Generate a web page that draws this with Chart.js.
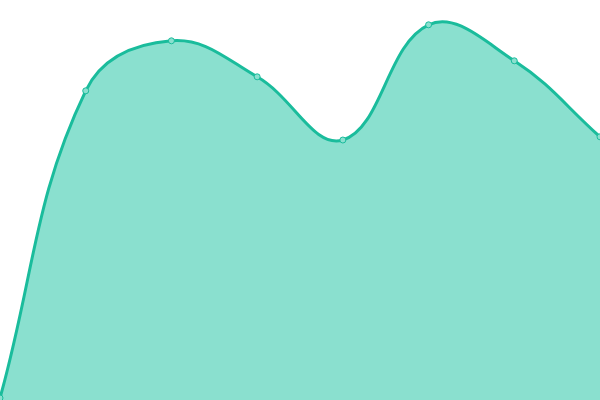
<!DOCTYPE html>
<html>
<head>
<meta charset="utf-8">
<script src="https://cdn.jsdelivr.net/npm/chart.js@4"></script>
<style>
    html, body { margin: 0; padding: 0; background: #fff; }
    #wrap { width: 600px; height: 400px; }
</style>
</head>
<body>
<div id="wrap"><canvas id="chart"></canvas></div>
<script>
const labels = ['1', '2', '3', '4', '5', '6', '7', '8'];
const values = [0.5, 77.3, 89.8, 80.8, 65, 93.8, 84.8, 65.8];

const lineColor = '#1abc9c';
const fillColor = '#8ae0cf';

new Chart(document.getElementById('chart'), {
    type: 'line',
    data: {
        labels: labels,
        datasets: [{
            data: values,
            borderColor: lineColor,
            backgroundColor: fillColor,
            borderWidth: 3,
            fill: true,
            tension: 0.4,
            pointRadius: 3,
            pointBorderWidth: 1,
            pointBackgroundColor: fillColor,
            pointBorderColor: lineColor
        }]
    },
    options: {
        responsive: true,
        maintainAspectRatio: false,
        animation: false,
        layout: { padding: 0, autoPadding: false },
        plugins: {
            legend: { display: false },
            tooltip: { enabled: false }
        },
        scales: {
            x: { display: false, offset: false },
            y: { display: false, min: 0, max: 100 }
        }
    }
});
</script>
</body>
</html>
